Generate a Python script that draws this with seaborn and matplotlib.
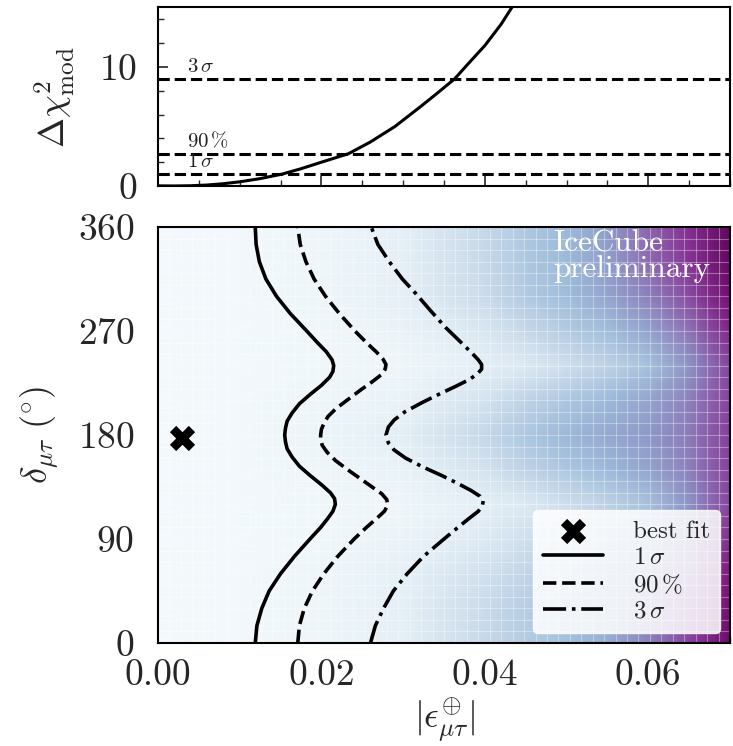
import numpy as np
import pandas as pd
import matplotlib
matplotlib.use("Agg")
import matplotlib.pyplot as plt
from matplotlib.ticker import MultipleLocator, FormatStrFormatter
import seaborn as sns

# --- profiled test statistic (top panel) ---
eps_profile = [0.000, 0.002, 0.004, 0.006, 0.008, 0.010, 0.0125, 0.0152, 0.0175, 0.020,
               0.0233, 0.026, 0.029, 0.032, 0.034, 0.0363, 0.038, 0.040, 0.042, 0.0433, 0.045]
dchi2_profile = [0.01, 0.0, 0.02, 0.08, 0.19, 0.35, 0.62, 1.0, 1.45, 2.0,
                 2.71, 3.7, 5.0, 6.6, 7.7, 9.0, 10.3, 11.8, 13.6, 15.0, 17.0]

levels = [1.0, 2.71, 9.0]
level_names = [r"$1\,\sigma$", r"$90\,\%$", r"$3\,\sigma$"]

# --- contours in (|eps|, delta) plane (bottom panel) ---
delta_1s = [0, 15, 30, 45, 60, 75, 90, 100, 108, 114, 120, 125, 130, 137, 145, 153, 161,
            168, 174, 180, 186, 192, 199, 207, 215, 223, 230, 235, 240, 245, 252, 260,
            270, 285, 300, 315, 330, 345, 360]
eps_1s = [0.0119, 0.0121, 0.0127, 0.0136, 0.0150, 0.0167, 0.0186, 0.0199, 0.0208, 0.0214,
          0.0217, 0.0216, 0.0211, 0.0200, 0.0186, 0.0173, 0.0164, 0.0158, 0.0156, 0.0155,
          0.0156, 0.0158, 0.0164, 0.0173, 0.0186, 0.0200, 0.0210, 0.0214, 0.0215, 0.0213,
          0.0206, 0.0195, 0.0182, 0.0162, 0.0145, 0.0132, 0.0124, 0.0120, 0.0119]

delta_90 = [0, 15, 30, 45, 60, 75, 90, 100, 108, 114, 119, 124, 129, 135, 142, 150, 158,
            165, 171, 176, 180, 185, 190, 196, 203, 211, 219, 226, 232, 237, 241, 246,
            252, 260, 270, 285, 300, 315, 330, 345, 360]
eps_90 = [0.0171, 0.0173, 0.0179, 0.0189, 0.0203, 0.0220, 0.0240, 0.0255, 0.0268, 0.0277,
          0.0281, 0.0280, 0.0274, 0.0262, 0.0248, 0.0232, 0.0217, 0.0207, 0.0201, 0.0199,
          0.0199, 0.0200, 0.0203, 0.0208, 0.0218, 0.0233, 0.0248, 0.0262, 0.0273, 0.0278,
          0.0279, 0.0275, 0.0267, 0.0255, 0.0241, 0.0222, 0.0205, 0.0191, 0.0181, 0.0174,
          0.0171]

delta_3s = [0, 15, 30, 45, 60, 75, 90, 100, 108, 114, 119, 123, 127, 132, 138, 145, 152,
            160, 167, 173, 180, 187, 193, 200, 208, 215, 222, 228, 233, 237, 241, 245,
            251, 260, 273, 288, 302, 315, 330, 345, 360]
eps_3s = [0.0260, 0.0266, 0.0276, 0.0288, 0.0305, 0.0325, 0.0350, 0.0367, 0.0381, 0.0392,
          0.0397, 0.0398, 0.0394, 0.0383, 0.0367, 0.0347, 0.0325, 0.0303, 0.0289, 0.0282,
          0.0279, 0.0282, 0.0289, 0.0302, 0.0323, 0.0343, 0.0364, 0.0381, 0.0391, 0.0396,
          0.0396, 0.0392, 0.0384, 0.0371, 0.0352, 0.0333, 0.0316, 0.0299, 0.0283, 0.0269,
          0.0261]

best_fit_eps = [0.0029]
best_fit_delta = [177]

# --- background map, read as colormap fraction ---
map_eps = [0.0, 0.01, 0.02, 0.03, 0.04, 0.045, 0.05, 0.055, 0.06, 0.065, 0.07]
map_delta = [0, 30, 60, 90, 120, 150, 180, 210, 240, 270, 300, 330, 360]
map_vals = [
    [0.02, 0.03, 0.05, 0.10, 0.22, 0.29, 0.35, 0.42, 0.56, 0.74, 0.92],
    [0.02, 0.03, 0.05, 0.10, 0.21, 0.28, 0.34, 0.41, 0.53, 0.70, 0.90],
    [0.02, 0.03, 0.05, 0.09, 0.18, 0.24, 0.31, 0.38, 0.48, 0.64, 0.86],
    [0.02, 0.03, 0.04, 0.07, 0.14, 0.19, 0.25, 0.31, 0.40, 0.56, 0.80],
    [0.02, 0.03, 0.04, 0.05, 0.10, 0.14, 0.19, 0.25, 0.34, 0.50, 0.74],
    [0.02, 0.03, 0.05, 0.08, 0.17, 0.25, 0.32, 0.38, 0.45, 0.56, 0.75],
    [0.02, 0.03, 0.06, 0.11, 0.23, 0.32, 0.39, 0.44, 0.49, 0.58, 0.76],
    [0.02, 0.03, 0.05, 0.08, 0.17, 0.25, 0.32, 0.38, 0.45, 0.56, 0.75],
    [0.02, 0.03, 0.04, 0.05, 0.10, 0.14, 0.19, 0.25, 0.34, 0.50, 0.74],
    [0.02, 0.03, 0.04, 0.07, 0.15, 0.22, 0.29, 0.36, 0.45, 0.60, 0.82],
    [0.02, 0.03, 0.05, 0.10, 0.21, 0.30, 0.37, 0.45, 0.56, 0.72, 0.90],
    [0.02, 0.03, 0.05, 0.10, 0.22, 0.31, 0.38, 0.47, 0.62, 0.78, 0.94],
    [0.02, 0.03, 0.05, 0.10, 0.22, 0.31, 0.38, 0.48, 0.64, 0.80, 0.95],
]

sns.set_style("ticks")
plt.rcParams.update({
    "font.family": "serif",
    "font.serif": ["cmr10"],
    "mathtext.fontset": "cm",
    "axes.formatter.use_mathtext": True,
    "axes.unicode_minus": False,
    "xtick.direction": "in",
    "ytick.direction": "in",
    "xtick.major.size": 7,
    "ytick.major.size": 7,
    "xtick.minor.size": 4.5,
    "ytick.minor.size": 4.5,
    "xtick.major.width": 1.2,
    "ytick.major.width": 1.2,
    "xtick.minor.width": 1.0,
    "ytick.minor.width": 1.0,
    "axes.linewidth": 1.5,
    "axes.edgecolor": "black",
    "font.size": 26,
})

TICK_FS = 27
LABEL_FS = 26

fig = plt.figure(figsize=(7.33, 7.46), dpi=100)
ax_top = fig.add_axes([0.2156, 0.7507, 0.7803, 0.2393])
ax = fig.add_axes([0.2156, 0.1381, 0.7803, 0.5576])

# ---- top panel ----
prof = pd.DataFrame({"eps": eps_profile, "dchi2": dchi2_profile})
sns.lineplot(data=prof, x="eps", y="dchi2", ax=ax_top, color="black", lw=2.2,
             sort=False, estimator=None)
for lvl, name in zip(levels, level_names):
    ax_top.axhline(lvl, color="black", ls="--", lw=2.2)
    ax_top.text(0.0035, lvl + 0.25, name, fontsize=15, color="#222222",
                ha="left", va="bottom")
ax_top.set_xlim(0, 0.07)
ax_top.set_ylim(0, 15)
ax_top.yaxis.set_major_locator(MultipleLocator(10))
ax_top.yaxis.set_minor_locator(MultipleLocator(2))
ax_top.xaxis.set_major_locator(MultipleLocator(0.02))
ax_top.xaxis.set_minor_locator(MultipleLocator(0.005))
ax_top.tick_params(axis="x", labelbottom=False)
ax_top.tick_params(axis="y", labelsize=TICK_FS, pad=15)
ax_top.set_xlabel("")
ax_top.set_ylabel(r"$\Delta\chi^2_{\mathrm{mod}}$", fontsize=LABEL_FS, labelpad=16)

# ---- bottom panel: background map ----
ax.pcolormesh(map_eps, map_delta, np.array(map_vals), shading="gouraud",
              cmap="BuPu", vmin=0, vmax=1, rasterized=True)
# faint cell edges of the scan grid
ax.vlines(np.arange(0, 0.0705, 0.0014), 0, 360, color="white", lw=0.8, alpha=0.35)
ax.hlines(np.arange(0, 361, 10), 0, 0.07, color="white", lw=0.8, alpha=0.35)

sns.scatterplot(x=best_fit_eps, y=best_fit_delta, ax=ax, marker="X", s=330,
                color="black", linewidth=0, label="best fit", zorder=5)
contours = [(eps_1s, delta_1s, "-", level_names[0]),
            (eps_90, delta_90, "--", level_names[1]),
            (eps_3s, delta_3s, "-.", level_names[2])]
for ex, dy, ls, name in contours:
    sns.lineplot(x=ex, y=dy, ax=ax, color="black", lw=2.6, linestyle=ls,
                 sort=False, estimator=None, label=name)

ax.text(0.0484, 358, "IceCube\npreliminary", color="white", fontsize=22.5,
        ha="left", va="top", linespacing=0.9, zorder=6)

ax.set_xlim(0, 0.07)
ax.set_ylim(0, 360)
ax.xaxis.set_major_locator(MultipleLocator(0.02))
ax.xaxis.set_minor_locator(MultipleLocator(0.005))
ax.yaxis.set_major_locator(MultipleLocator(90))
ax.yaxis.set_minor_locator(MultipleLocator(45))
ax.xaxis.set_major_formatter(FormatStrFormatter("%.2f"))
ax.tick_params(axis="x", labelsize=TICK_FS, pad=11)
ax.tick_params(axis="y", labelsize=TICK_FS, pad=17)
ax.set_xlabel(r"$|\epsilon^{\oplus}_{\mu\tau}|$", fontsize=LABEL_FS, labelpad=4)
ax.set_ylabel(r"$\delta_{\mu\tau}\ (^{\circ})$", fontsize=LABEL_FS, labelpad=12)

leg = ax.legend(loc="lower right", fontsize=18, frameon=True, fancybox=True,
                framealpha=0.85, edgecolor="white", handlelength=2.4,
                borderpad=0.4, labelspacing=0.15, handletextpad=1.2,
                borderaxespad=0.4)
leg.set_zorder(7)

fig.savefig("out.png", dpi=100)
